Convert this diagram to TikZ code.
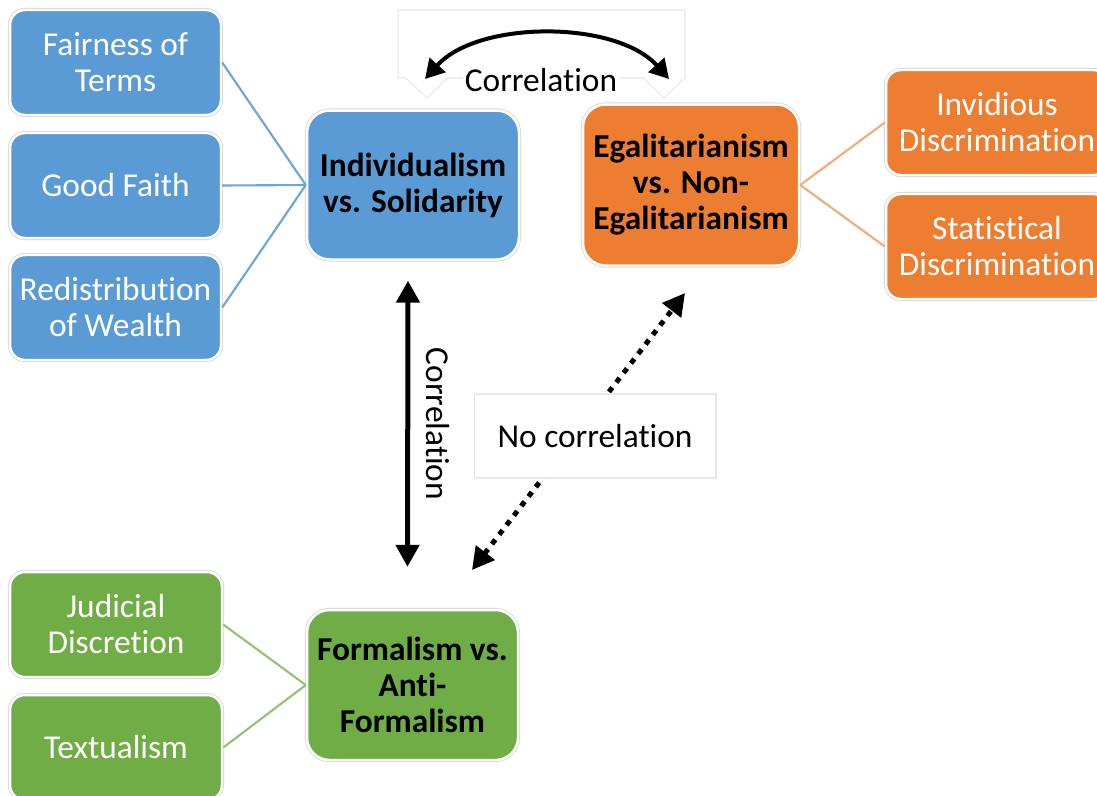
\documentclass[tikz,border=0pt]{standalone}
\usepackage{fontspec}
\setmainfont[RawFeature={-liga;-clig;-calt;-dlig}]{Carlito}
\usetikzlibrary{arrows.meta,positioning}
\definecolor{indiv}{HTML}{5B9BD5}
\definecolor{egal}{HTML}{ED7D31}
\definecolor{formal}{HTML}{70AD47}
\definecolor{framegray}{HTML}{E8E8E8}

\begin{document}
\begin{tikzpicture}[x=0.02cm, y=-0.02cm,
  font=\fontsize{19}{20.5}\selectfont,
  box/.style={rectangle, rounded corners=0.3cm, minimum width=4.22cm, minimum height=2.1cm,
    align=center, text=white, inner sep=0pt,
    preaction={draw=black!15, line width=2.4pt}, draw=white, line width=1.4pt},
  hub/.style={box, rounded corners=0.45cm, text=black,
    font=\fontsize{19}{20.5}\selectfont\bfseries},
  link/.style={line width=1.2pt},
  corr/.style={line width=0.1cm,
    {Triangle[width=0.46cm,length=0.44cm]}-{Triangle[width=0.46cm,length=0.44cm]}},
  nocorr/.style={corr, dash pattern=on 0.11cm off 0.13cm}]

  \path[use as bounding box, fill=white] (0,0) rectangle (1097,795);
  \clip (0,0) rectangle (1097,795);

  % the three dimensions
  \node[hub, fill=indiv, minimum width=4.24cm, minimum height=2.98cm] (indiv) at (413,185)
    {Individualism\\vs. Solidarity};
  \node[hub, fill=egal, minimum width=4.32cm, minimum height=3.22cm] (egal) at (691,185)
    {Egalitarianism\\vs. Non-\\Egalitarianism};
  \node[hub, fill=formal, minimum width=4.22cm, minimum height=3cm] (formal) at (412.5,685)
    {Formalism vs.\\Anti-\\Formalism};

  % doctrines
  \node[box, fill=indiv] (fair) at (115.5,62.5) {Fairness of\\Terms};
  \node[box, fill=indiv] (faith) at (115.5,185.5) {Good Faith};
  \node[box, fill=indiv] (wealth) at (115.5,307.5) {Redistribution\\of Wealth};

  \node[box, fill=egal, minimum width=4.44cm] (invid) at (997,122.5) {Invidious\\Discrimination};
  \node[box, fill=egal, minimum width=4.44cm] (stat) at (997,246.5) {Statistical\\Discrimination};

  \node[box, fill=formal, minimum width=4.24cm] (judic) at (116,624.5) {Judicial\\Discretion};
  \node[box, fill=formal, minimum width=4.24cm] (textual) at (116,747.5) {Textualism};

  \draw[link, indiv!90!white] (fair.east) -- (indiv.west);
  \draw[link, indiv!90!white] (faith.east) -- (indiv.west);
  \draw[link, indiv!90!white] (wealth.east) -- (indiv.west);
  \draw[link, egal!65!white] (egal.east) -- (invid.west);
  \draw[link, egal!65!white] (egal.east) -- (stat.west);
  \draw[link, formal!75!white] (judic.east) -- (formal.west);
  \draw[link, formal!75!white] (textual.east) -- (formal.west);

  % correlation on top
  \draw[framegray, fill=white, line width=0.6pt] (398,10) -- (685,10) -- (685,78) -- (664,98)
    -- (643,78) -- (447,78) -- (427,98) -- (406,78) -- (398,78) -- cycle;
  \node[fill=white, inner sep=1pt] (corrTop) at (541,80) {Correlation};
  \coordinate (arcL) at (425,79);
  \coordinate (arcR) at (669,79);
  \draw[line width=0.08cm, {Triangle[width=0.42cm,length=0.38cm]}-{Triangle[width=0.42cm,length=0.38cm]}]
    (arcL) .. controls (478,20) and (616,20) .. (arcR);

  % correlation between individualism and formalism
  \coordinate (vTop) at ([xshift=-0.1cm, yshift=-0.4cm]indiv.south);
  \coordinate (vBot) at ([xshift=-0.1cm, yshift=0.84cm]formal.north);
  \draw[corr] (vTop) -- (vBot);
  \node[rotate=-90] (corrSide) at (438,424) {Correlation};

  % no correlation
  \coordinate (dTop) at (685,293);
  \coordinate (dBot) at (472,570);
  \draw[nocorr] (dBot) -- (dTop);
  \node[draw=framegray, fill=white, line width=0.6pt, minimum width=4.84cm, minimum height=1.68cm]
    (noCorr) at (595,436) {No correlation};
\end{tikzpicture}
\end{document}
